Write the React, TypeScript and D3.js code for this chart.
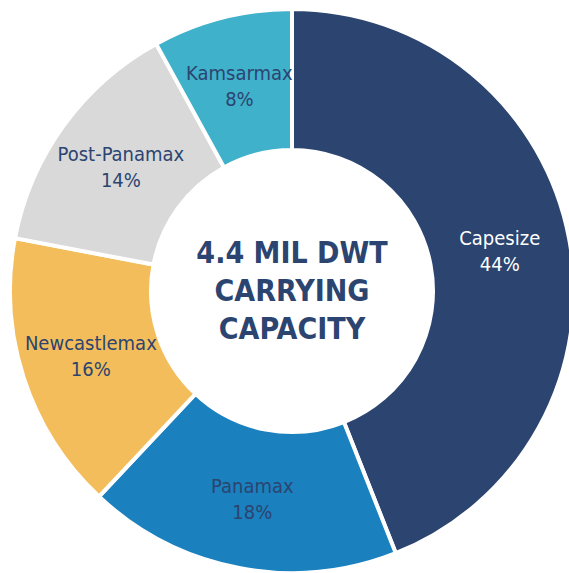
import { useEffect, useRef } from "react"
import * as d3 from "d3"

const categories = ["Capesize", "Panamax", "Newcastlemax", "Post-Panamax", "Kamsarmax"]
const shares = [44, 18, 16, 14, 8]
const colors = ["#2b4470", "#1a80be", "#f3bd5c", "#d9d9d9", "#40b1ca"]
const labelColors = ["#ffffff", "#2c4470", "#2c4470", "#2c4470", "#2c4470"]
const centerLines = ["4.4 MIL DWT", "CARRYING", "CAPACITY"]

export default function App() {
  const svgRef = useRef<SVGSVGElement>(null)

  useEffect(() => {
    if (!svgRef.current) return
    d3.select(svgRef.current).selectAll("*").remove()

    const width = 569
    const height = 573
    const cx = 292
    const cy = 291
    const outer = 282
    const inner = 141
    const font = "'DejaVu Sans Condensed', 'DejaVu Sans', sans-serif"

    const data = categories.map((c, i) => ({ name: c, value: shares[i], i }))

    const svg = d3
      .select(svgRef.current)
      .attr("width", width)
      .attr("height", height)
      .append("g")
      .attr("transform", `translate(${cx},${cy})`)

    const pie = d3
      .pie<any>()
      .value((d) => d.value)
      .sort(null)

    const arcs = pie(data)

    const arcGen = d3.arc<any>().innerRadius(inner).outerRadius(outer)

    svg
      .selectAll("path")
      .data(arcs)
      .enter()
      .append("path")
      .attr("d", arcGen)
      .attr("fill", (d) => colors[d.data.i])
      .attr("stroke", "#ffffff")
      .style("stroke-width", "4px")

    const labelArc = d3
      .arc<any>()
      .innerRadius((inner + outer) / 2)
      .outerRadius((inner + outer) / 2)

    const labels = svg
      .selectAll("text.label")
      .data(arcs)
      .enter()
      .append("text")
      .attr("class", "label")
      .attr("transform", (d) => `translate(${labelArc.centroid(d)})`)
      .attr("text-anchor", "middle")
      .attr("fill", (d) => labelColors[d.data.i])
      .style("font-family", font)
      .style("font-stretch", "condensed")
      .style("font-size", "20px")

    labels
      .append("tspan")
      .attr("x", 0)
      .attr("dy", "-0.3em")
      .text((d) => d.data.name)

    labels
      .append("tspan")
      .attr("x", 0)
      .attr("dy", "1.3em")
      .text((d) => `${d.data.value}%`)

    // center title
    svg
      .append("g")
      .selectAll("text")
      .data(centerLines)
      .enter()
      .append("text")
      .attr("text-anchor", "middle")
      .attr("y", (_, i) => -28 + i * 38)
      .attr("fill", "#2c4470")
      .style("font-family", font)
      .style("font-stretch", "condensed")
      .style("font-weight", "bold")
      .style("font-size", "30px")
      .text((d) => d)
  }, [])

  return (
    <div>
      <svg ref={svgRef} style={{ position: "absolute", left: 0, top: 0 }}></svg>
    </div>
  )
}
